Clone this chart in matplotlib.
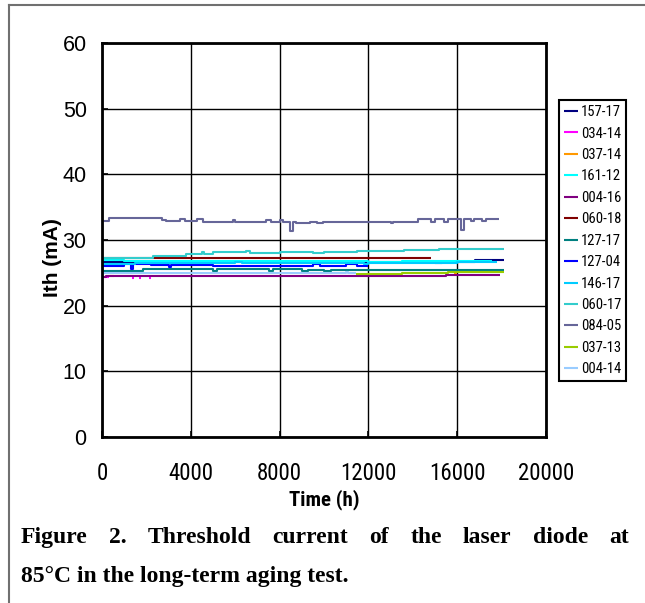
import numpy as np
import matplotlib
matplotlib.use("Agg")
import matplotlib.pyplot as plt
from matplotlib.lines import Line2D
from matplotlib import font_manager
from matplotlib.font_manager import FontProperties

nan = np.nan

# ---------------- data (hours, mA) ----------------
labels = ["157-17", "034-14", "037-14", "161-12", "004-16", "060-18", "127-17",
          "127-04", "146-17", "060-17", "084-05", "037-13", "004-14"]
colors = ["#000080", "#FF00FF", "#FF9900", "#00FFFF", "#800080", "#800000", "#008080",
          "#0000FF", "#00CCFF", "#33CCCC", "#666699", "#99CC00", "#99CCFF"]

t_157_17 = [0, 3000, 3600, 15000, 15300, 16800, 18100]
v_157_17 = [26.7, 26.7, 26.6, 26.5, 26.7, 26.95, 26.95]

t_034_14 = [0, 300, 1350, 1450, 1650, 1750, 2100, 2200]
v_034_14 = [24.3, nan, 24.2, nan, 24.2, nan, 24.2, nan]

t_037_14 = [350, 550, 15850, 16000]
v_037_14 = [24.45, nan, 25.0, nan]

t_161_12 = [0, 1000, 2000, 12000, 13500, 15500, 17550]
v_161_12 = [26.9, 26.8, 26.75, 26.7, 26.75, 26.8, 26.8]

t_004_16 = [0, 200, 800, 15000, 15500, 16500, 17950]
v_004_16 = [24.3, 24.5, 24.5, 24.55, 24.7, 24.6, 24.6]

t_060_18 = [0, 14800]
v_060_18 = [27.2, 27.2]

t_127_17 = [0, 1850, 5000, 5200, 7500, 7700, 9000, 9300, 10000, 10300, 18100]
v_127_17 = [25.35, 25.55, 25.35, 25.55, 25.35, 25.55, 25.3, 25.5, 25.3, 25.5, 25.5]

t_127_04 = [0, 1000, 1300, 1400, 2200, 3000, 3100, 5000, 8000, 9500, 9800, 11000, 11500, 12000]
v_127_04 = [26.1, 26.35, 25.6, 26.35, 26.2, 25.9, 26.2, 26.1, 26.1, 26.3, 26.1, 26.3, 26.1, 26.1]

t_146_17 = [0, 1500, 3000, 6000, 6300, 11800, 12000, 14000, 16000, 17800]
v_146_17 = [26.4, 26.55, 26.5, 26.6, 26.5, 26.35, 26.55, 26.45, 26.6, 26.6]

t_060_17 = [0, 2300, 3800, 4500, 4600, 5000, 6500, 6650, 8000, 9000, 9500, 10000, 11500, 13600, 15200, 18100]
v_060_17 = [27.2, 27.6, 27.9, 28.1, 27.9, 28.1, 28.25, 28.05, 28.1, 28.2, 28.0, 28.1, 28.3, 28.5, 28.7, 28.7]

t_084_05 = [0, 300, 2700, 2900, 3500, 3750, 4300, 4550, 5900, 6000, 7400, 7600, 8000, 8150,
            8450, 8600, 8750, 9350, 9700, 9950, 10100, 13000, 13100, 14250, 14800, 15000,
            15400, 15600, 16150, 16300, 16600, 16750, 17100, 17300, 17900]
v_084_05 = [32.9, 33.3, 33.1, 32.85, 33.2, 32.85, 33.2, 32.8, 33.0, 32.8, 33.05, 32.8, 33.05, 32.8,
            31.4, 32.8, 32.6, 32.8, 32.55, 32.8, 32.8, 32.6, 32.8, 33.15, 32.7, 33.15,
            32.75, 33.15, 31.5, 33.15, 32.9, 33.15, 32.95, 33.15, 33.15]

t_037_13 = [11450, 13500, 14600, 15600, 18100]
v_037_13 = [24.85, 25.0, 24.95, 25.1, 25.1]

t_004_14 = [0, 11000, 11100, 11450]
v_004_14 = [25.0, 25.2, 25.0, 25.0]

series_t = [t_157_17, t_034_14, t_037_14, t_161_12, t_004_16, t_060_18, t_127_17,
            t_127_04, t_146_17, t_060_17, t_084_05, t_037_13, t_004_14]
series_v = [v_157_17, v_034_14, v_037_14, v_161_12, v_004_16, v_060_18, v_127_17,
            v_127_04, v_146_17, v_060_17, v_084_05, v_037_13, v_004_14]

x_ticks = [0, 4000, 8000, 12000, 16000, 20000]
y_ticks = [0, 10, 20, 30, 40, 50, 60]

# ---------------- fonts ----------------
def is_condensed(f):
    st = f.stretch
    if isinstance(st, str):
        return st in ("condensed", "semi-condensed", "extra-condensed", "ultra-condensed")
    try:
        return int(st) < 500
    except Exception:
        return False

cands = [f for f in font_manager.fontManager.ttflist
         if ("Narrow" in f.name or "Condensed" in f.name or is_condensed(f))
         and f.style == "normal" and "Serif" not in f.name and "Mono" not in f.name]

def pick(bold):
    pref = ["Liberation Sans Narrow", "Arial Narrow", "Roboto Condensed", "Open Sans Condensed",
            "Noto Sans", "DejaVu Sans", "Roboto", "Open Sans"]
    good = [f for f in cands if ((f.weight in ("bold", 700) or (isinstance(f.weight, int) and f.weight >= 600)) == bold)]
    for p in pref:
        for f in good:
            if f.name.startswith(p):
                return f.fname
    return good[0].fname if good else None

f_reg = pick(False)
f_bold = pick(True)

def fp(size, bold=False):
    fn = f_bold if bold else f_reg
    if fn:
        return FontProperties(fname=fn, size=size)
    return FontProperties(family="Liberation Sans", weight="bold" if bold else "normal", size=size * 0.88)

W, H = 645, 603
fig = plt.figure(figsize=(W / 100, H / 100), dpi=100)
fig.patch.set_facecolor("white")

L, R, T, B = 102, 546, 43, 437
ax = fig.add_axes([L / W, 1 - B / H, (R - L) / W, (B - T) / H])

handles = []
for t, v, c, lab in zip(series_t, series_v, colors, labels):
    ln, = ax.plot(t, v, color=c, lw=1.5, drawstyle="steps-post", solid_capstyle="butt", label=lab)
    handles.append(ln)

ax.set_xlim(0, 20000)
ax.set_ylim(0, 60)
ax.set_xticks(x_ticks)
ax.set_yticks(y_ticks)
ax.set_xticklabels([str(x) for x in x_ticks], fontproperties=fp(16.5))
ax.set_yticklabels([str(y) for y in y_ticks], fontfamily="Liberation Sans", fontsize=15.5)
ax.tick_params(axis="both", direction="in", length=4, width=1.2, color="black")
ax.tick_params(axis="x", pad=18)
ax.tick_params(axis="y", pad=11)
ax.grid(True, color="black", lw=1.0)
ax.set_axisbelow(True)
for s in ax.spines.values():
    s.set_linewidth(2.0)
    s.set_color("black")

fig.text(324 / W, 1 - 500 / H, "Time (h)", fontproperties=fp(15, True), ha="center", va="center")
fig.text(53 / W, 1 - 258 / H, "Ith (mA)", fontfamily="Liberation Sans", fontweight="bold",
         fontsize=15, rotation=90, ha="center", va="center")

leg = ax.legend(handles=handles, loc="upper left",
                bbox_to_anchor=(559 / W, 1 - 100 / H), bbox_transform=fig.transFigure,
                frameon=True, fancybox=False, edgecolor="black", framealpha=1,
                borderpad=0.35, borderaxespad=0, handlelength=0.95, handletextpad=0.2,
                labelspacing=0.51, prop=fp(10.5))
leg.get_frame().set_linewidth(1.5)

# outer frame (top and left edges visible)
fig.add_artist(Line2D([9 / W, 9 / W], [0, 1 - 5 / H], transform=fig.transFigure, color="#707070", lw=1.5))
fig.add_artist(Line2D([9 / W, 1], [1 - 5 / H, 1 - 5 / H], transform=fig.transFigure, color="#707070", lw=1.5))

# caption: first line justified
line1 = "Figure 2. Threshold current of the laser diode at".split()
line2 = "85°C in the long-term aging test."
cap_kw = dict(fontfamily="Liberation Serif", fontweight="bold", fontsize=17, va="baseline", ha="left")
renderer = fig.canvas.get_renderer()
x0, x1 = 21, 629
texts = [fig.text(0, 1 - 543 / H, w, **cap_kw) for w in line1]
widths = [tx.get_window_extent(renderer).width for tx in texts]
gap = (x1 - x0 - sum(widths)) / (len(line1) - 1)
xpos = x0
for tx, w in zip(texts, widths):
    tx.set_x(xpos / W)
    xpos += w + gap
fig.text(x0 / W, 1 - 582 / H, line2, **cap_kw)

fig.savefig("out.png", dpi=100, facecolor="white")
